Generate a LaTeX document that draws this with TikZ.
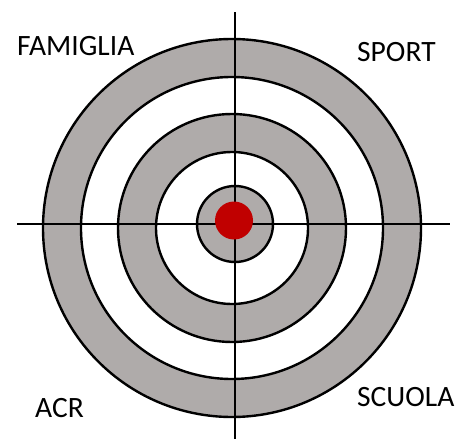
\documentclass[tikz,border=0pt]{standalone}
\usepackage{fontspec}
\setmainfont{Carlito}
\usetikzlibrary{positioning}
\definecolor{ringgray}{RGB}{175,171,170}
\definecolor{bullred}{RGB}{192,0,0}

\begin{document}
\begin{tikzpicture}[
    x=1pt, y=-1pt,
    ring/.style={draw, line width=2.4pt},
    axisline/.style={draw, line width=2.4pt},
    lbl/.style={font=\fontsize{29.5}{31}\selectfont, inner sep=0pt, anchor=base west},
  ]
    \useasboundingbox (0,0) rectangle (464,439);
    % target rings, outermost first
    \coordinate (c) at (232,228);
    \foreach \r/\col in {189/ringgray, 151/white, 114/ringgray, 76/white}
      \draw[ring, fill=\col] (c) circle[radius=\r pt];
    \coordinate (cross) at (235,224);
    \draw[ring, fill=ringgray] (cross) circle[radius=38pt];
    % cross lines
    \coordinate (top) at (235,12);
    \coordinate (bottom) at (235,439);
    \coordinate (left) at (17,224);
    \coordinate (right) at (450,224);
    \draw[axisline] (top) -- (bottom);
    \draw[axisline] (left) -- (right);
    % bull's eye
    \fill[bullred] (234,220.5) circle[radius=19pt];
    % labels
    \node[lbl] (famiglia) at (17,56) {FAMIGLIA};
    \node[lbl] (sport) at (357,61.5) {SPORT};
    \node[lbl] (acr) at (35,417) {ACR};
    \node[lbl] (scuola) at (357,406) {SCUOLA};
  \end{tikzpicture}
\end{document}
